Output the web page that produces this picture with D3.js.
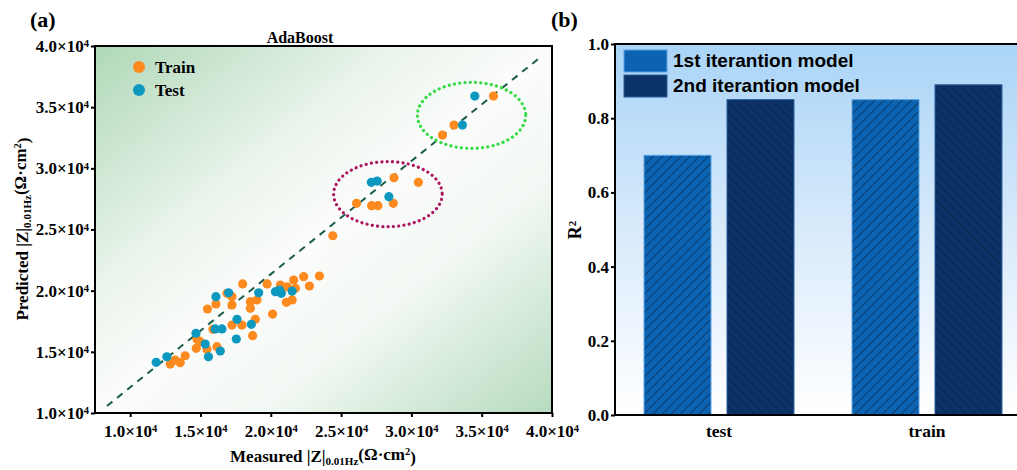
<!DOCTYPE html>
<html><head><meta charset="utf-8">
<script src="https://cdn.jsdelivr.net/npm/d3@7"></script>
<style>body{margin:0;background:#fff}</style>
</head><body>
<svg id="c" width="1017" height="470"></svg>
<script>
// ---------- data: panel (a) ----------
const trainMeasured = [23460,22340,22750,21630,21160,20680,19740,18000,21750,21520,21110,20130,19020,18550,18550,17240,17240,16890,16100,15500,18900,17950,17240,15890,18710,14750,14980,14700,15460,16170,13910,13200,12850,13560,35840,33030,32210,28760,30500,28710,26100,27170,27620,24410];
const trainPredicted = [21200,21140,20380,20870,20320,20460,20550,20550,20190,19240,19050,18090,19240,19100,18560,19510,18830,19780,18910,18500,17660,17190,17190,16840,16320,16020,15830,15290,15210,15420,14680,14330,14000,14110,35910,33540,32720,29230,28860,27140,27140,26950,26950,24490];
const testMeasured = [16100,17000,19140,20330,20750,20630,21520,17600,18620,16050,16530,14680,17550,15340,15570,16410,12610,11850,34510,33630,27150,27570,28400];
const testPredicted = [19510,19830,19830,19920,19780,20050,19970,17660,17250,16870,16870,16520,16050,15640,14600,15070,14600,14140,35910,33540,28860,28960,27680];
const axisTicks = [10000,15000,20000,25000,30000,35000,40000];
const fitLineMeasured = [8350, 39200];
const fitLinePredicted = [10570, 39110];
const circledCenterX = [34280, 28330];
const circledCenterY = [34330, 27890];
const circledRadiusX = [3850, 3860];
const circledRadiusY = [2700, 2660];
const scatterLegend = ["Train", "Test"];
// ---------- data: panel (b) ----------
const barGroups = ["test", "train"];
const barSeries = ["1st iterantion model", "2nd iterantion model"];
const firstIteration = [0.70, 0.85];
const secondIteration = [0.85, 0.89];
const r2Ticks = [0, 0.2, 0.4, 0.6, 0.8, 1.0];

const serif = "'Liberation Serif','Times New Roman',serif";
const sans = "'Liberation Sans',Arial,sans-serif";
const orange = "#fd8a1f", teal = "#0d98c0";
const blue1 = "#0b63b2", blue2 = "#0b3367";

const svg = d3.select("#c");
const defs = svg.append("defs");

// gradients
const ga = defs.append("linearGradient").attr("id","ga").attr("x1",0).attr("y1",0).attr("x2",1).attr("y2",1);
[[0,"#afd8b8"],[0.33,"#eaf4eb"],[0.5,"#fbfcfb"],[0.68,"#f2f8f3"],[1,"#b6dbbf"]].forEach(s=>ga.append("stop").attr("offset",s[0]).attr("stop-color",s[1]));
const gb = defs.append("linearGradient").attr("id","gb").attr("x1",0).attr("y1",0).attr("x2",0).attr("y2",1);
[[0,"#a9d4f7"],[0.5,"#d8eafb"],[1,"#ffffff"]].forEach(s=>gb.append("stop").attr("offset",s[0]).attr("stop-color",s[1]));

function hatch(id, angle){
  const p = defs.append("pattern").attr("id",id).attr("patternUnits","userSpaceOnUse")
    .attr("width",6.5).attr("height",6.5).attr("patternTransform",`rotate(${angle})`);
  p.append("line").attr("x1",0).attr("y1",0).attr("x2",0).attr("y2",6.5)
    .attr("stroke","#071c3a").attr("stroke-width",1.1);
}
hatch("h1",45); hatch("h2",-45);

// ================= Panel (a) =================
const x = d3.scaleLinear([7500,40000],[95,552]);
const y = d3.scaleLinear([10000,40000],[413,46]);

svg.append("rect").attr("x",95).attr("y",46).attr("width",457).attr("height",367).attr("fill","url(#ga)");

function sci(sel){
  sel.each(function(d){
    const t = d3.select(this); t.text(null);
    t.append("tspan").text((d/10000).toFixed(1)+"×10");
    t.append("tspan").attr("dy","-0.45em").attr("font-size","0.62em").text("4");
  });
}

const gx = svg.append("g").attr("transform","translate(0,413)")
  .call(d3.axisBottom(x).tickValues(axisTicks).tickSize(4).tickSizeOuter(0).tickPadding(8));
gx.select(".domain").remove();
gx.selectAll("line").attr("stroke-width",2);
gx.selectAll("text").attr("font-family",serif).attr("font-weight","bold").attr("font-size",17).call(sci);

const gy = svg.append("g").attr("transform","translate(95,0)")
  .call(d3.axisLeft(y).tickValues(axisTicks).tickSize(4).tickSizeOuter(0).tickPadding(2));
gy.select(".domain").remove();
gy.selectAll("line").attr("stroke-width",2);
gy.selectAll("text").attr("font-family",serif).attr("font-weight","bold").attr("font-size",17).call(sci);

// fit line
svg.append("line")
  .attr("x1",x(fitLineMeasured[0])).attr("y1",y(fitLinePredicted[0]))
  .attr("x2",x(fitLineMeasured[1])).attr("y2",y(fitLinePredicted[1]))
  .attr("stroke","#1b5d4a").attr("stroke-width",2).attr("stroke-dasharray","7,6");

// points
svg.append("g").selectAll("circle").data(trainMeasured).join("circle")
  .attr("cx",d=>x(d)).attr("cy",(d,i)=>y(trainPredicted[i])).attr("r",4.6).attr("fill",orange);
svg.append("g").selectAll("circle").data(testMeasured).join("circle")
  .attr("cx",d=>x(d)).attr("cy",(d,i)=>y(testPredicted[i])).attr("r",4.6).attr("fill",teal);

// dotted ellipses
const ellColors = ["#35dc45","#ab1560"];
svg.append("g").selectAll("ellipse").data(circledCenterX).join("ellipse")
  .attr("cx",d=>x(d)).attr("cy",(d,i)=>y(circledCenterY[i]))
  .attr("rx",(d,i)=>x(d+circledRadiusX[i])-x(d))
  .attr("ry",(d,i)=>y(circledCenterY[i]-circledRadiusY[i])-y(circledCenterY[i]))
  .attr("fill","none").attr("stroke",(d,i)=>ellColors[i]).attr("stroke-width",3.2)
  .attr("stroke-dasharray","0.1,5.2").attr("stroke-linecap","round");

// frame
svg.append("rect").attr("x",95).attr("y",46).attr("width",457).attr("height",367)
  .attr("fill","none").attr("stroke","#000").attr("stroke-width",2);

// legend a
const lgA = svg.append("g");
[orange, teal].forEach((c,i)=>{
  lgA.append("circle").attr("cx",139).attr("cy",67+i*23).attr("r",6).attr("fill",c);
  lgA.append("text").attr("x",155).attr("y",73+i*23).attr("font-family",serif).attr("font-weight","bold")
    .attr("font-size",17).text(scatterLegend[i]);
});

// titles
svg.append("text").attr("x",300).attr("y",43).attr("text-anchor","middle").attr("font-family",serif)
  .attr("font-weight","bold").attr("font-size",16).text("AdaBoost");
svg.append("text").attr("x",30).attr("y",27).attr("font-family",serif).attr("font-weight","bold")
  .attr("font-size",22).text("(a)");
svg.append("text").attr("x",551).attr("y",27).attr("font-family",serif).attr("font-weight","bold")
  .attr("font-size",22).text("(b)");

function zLabel(sel, prefix){
  sel.append("tspan").text(prefix+" |Z|");
  sel.append("tspan").attr("dy","0.3em").attr("font-size","0.65em").text("0.01Hz");
  sel.append("tspan").attr("dy","-0.3em").text("(Ω·cm");
  sel.append("tspan").attr("dy","-0.45em").attr("font-size","0.62em").text("2");
  sel.append("tspan").attr("dy","0.45em").text(")");
}
svg.append("text").attr("x",323).attr("y",462).attr("text-anchor","middle").attr("font-family",serif)
  .attr("font-weight","bold").attr("font-size",17).call(zLabel,"Measured");
svg.append("text").attr("transform","translate(28,229) rotate(-90)").attr("text-anchor","middle").attr("font-family",serif)
  .attr("font-weight","bold").attr("font-size",17).call(zLabel,"Predicted");

// ================= Panel (b) =================
const xb = d3.scaleBand(barGroups,[615,1031]);
const xs = d3.scaleBand(barSeries,[0,xb.bandwidth()]).paddingInner(0.193).paddingOuter(0.35);
const yb = d3.scaleLinear([0,1],[415,44]);

svg.append("rect").attr("x",615).attr("y",44).attr("width",416).attr("height",371).attr("fill","url(#gb)");

const seriesVals = [firstIteration, secondIteration];
const seriesFill = [blue1, blue2];
const seriesHatch = ["url(#h1)","url(#h2)"];
seriesVals.forEach((vals,s)=>{
  const g = svg.append("g");
  g.selectAll("rect.base").data(barGroups).join("rect").attr("class","base")
    .attr("x",d=>xb(d)+xs(barSeries[s])).attr("width",xs.bandwidth())
    .attr("y",(d,i)=>yb(vals[i])).attr("height",(d,i)=>yb(0)-yb(vals[i]))
    .attr("fill",seriesFill[s]);
  g.selectAll("rect.hatch").data(barGroups).join("rect").attr("class","hatch")
    .attr("x",d=>xb(d)+xs(barSeries[s])).attr("width",xs.bandwidth())
    .attr("y",(d,i)=>yb(vals[i])).attr("height",(d,i)=>yb(0)-yb(vals[i]))
    .attr("fill",seriesHatch[s]).attr("stroke",s===0?"#5aa2e2":"#2a5c9a").attr("stroke-width",1);
});

const gyb = svg.append("g").attr("transform","translate(615,0)")
  .call(d3.axisLeft(yb).tickValues(r2Ticks).tickFormat(d3.format(".1f")).tickSize(4).tickSizeOuter(0).tickPadding(2));
gyb.select(".domain").remove();
gyb.selectAll("line").attr("stroke-width",2);
gyb.selectAll("text").attr("font-family",serif).attr("font-weight","bold").attr("font-size",17);

const gxb = svg.append("g").attr("transform","translate(0,415)")
  .call(d3.axisBottom(xb).tickSize(0).tickPadding(10));
gxb.select(".domain").remove();
gxb.selectAll("text").attr("font-family",serif).attr("font-weight","bold").attr("font-size",17.5);

// frame b
svg.append("path").attr("d",`M1031,44H615V415H1031`).attr("fill","none").attr("stroke","#000").attr("stroke-width",2);

// R² label
const r2 = svg.append("text").attr("transform","translate(581,230) rotate(-90)").attr("text-anchor","middle")
  .attr("font-family",serif).attr("font-weight","bold").attr("font-size",18);
r2.append("tspan").text("R");
r2.append("tspan").attr("dy","-0.5em").attr("font-size","0.6em").text("2");

// legend b
barSeries.forEach((s,i)=>{
  svg.append("rect").attr("x",624).attr("y",50+i*25).attr("width",43).attr("height",22)
    .attr("fill",seriesFill[i]).attr("stroke",i===0?"#5aa2e2":"#2a5c9a").attr("stroke-width",1);
  svg.append("text").attr("x",673).attr("y",67+i*25).attr("font-family",sans).attr("font-weight","bold")
    .attr("font-size",19).text(s);
});
</script>
</body></html>
